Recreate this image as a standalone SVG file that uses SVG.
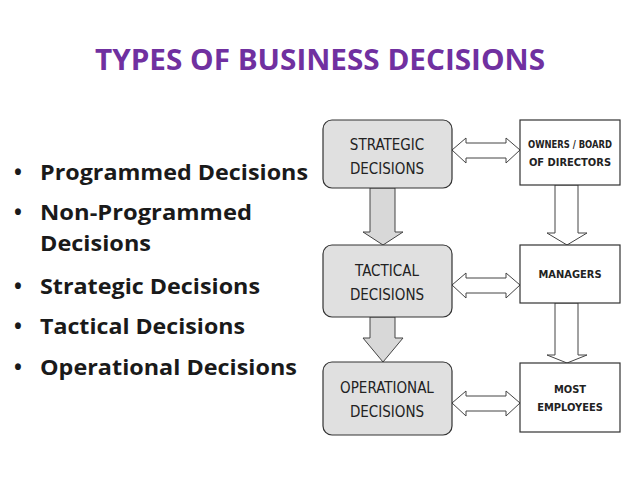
<svg xmlns="http://www.w3.org/2000/svg" width="638" height="479" viewBox="0 0 638 479">
<style>
.t{font-family:"Open Sans","Liberation Sans",sans-serif;font-weight:bold}
.b{font-family:"Open Sans","Liberation Sans",sans-serif;font-weight:bold;font-size:21px;fill:#1a1a1a}
.lb{fill:#e0e0e0;stroke:#333;stroke-width:1.2}
.rb{fill:#fff;stroke:#333;stroke-width:1.2}
.lt{font-family:"DejaVu Sans Condensed","Liberation Sans Narrow",sans-serif;font-size:15px;fill:#222;text-anchor:middle}
.rt{font-family:"DejaVu Sans Condensed","Liberation Sans Narrow",sans-serif;font-weight:bold;font-size:11px;fill:#222;text-anchor:middle}
.ga{fill:#d8d8d8;stroke:#444;stroke-width:1}
.wa{fill:#fff;stroke:#444;stroke-width:1}
</style>
<rect width="638" height="479" fill="#fff"/>
<text class="t" x="95" y="70" font-size="28" fill="#7030a0" textLength="450" lengthAdjust="spacingAndGlyphs">TYPES OF BUSINESS DECISIONS</text>
<g id="bullets">
<text class="b" x="14" y="180">•</text><text class="b" x="40" y="180" textLength="268" lengthAdjust="spacingAndGlyphs">Programmed Decisions</text>
<text class="b" x="14" y="220">•</text><text class="b" x="40" y="220" textLength="212" lengthAdjust="spacingAndGlyphs">Non-Programmed</text>
<text class="b" x="40" y="251" textLength="111" lengthAdjust="spacingAndGlyphs">Decisions</text>
<text class="b" x="14" y="294">•</text><text class="b" x="40" y="294" textLength="220" lengthAdjust="spacingAndGlyphs">Strategic Decisions</text>
<text class="b" x="14" y="334">•</text><text class="b" x="40" y="334" textLength="205" lengthAdjust="spacingAndGlyphs">Tactical Decisions</text>
<text class="b" x="14" y="375">•</text><text class="b" x="40" y="375" textLength="257" lengthAdjust="spacingAndGlyphs">Operational Decisions</text>
</g>
<g id="connectors">
<path class="ga" d="M370,188 H395 V232 H403 L383,245 L363,232 H370 Z"/>
<path class="ga" d="M370,317 H395 V338 H403 L383,362 L363,338 H370 Z"/>
<path class="wa" d="M555,185 H578 V233 H587 L567,245 L547,233 H555 Z"/>
<path class="wa" d="M555,303 H578 V355 H587 L567,363 L547,355 H555 Z"/>
<path class="wa" d="M452,150 L466,138 V143 H506 V138 L520,150 L506,163 V158 H466 V163 Z"/>
<path class="wa" d="M452,285 L466,273 V278 H506 V273 L520,285 L506,298 V293 H466 V298 Z"/>
<path class="wa" d="M452,403 L466,391 V396 H506 V391 L520,403 L506,416 V411 H466 V416 Z"/>
</g>
<g id="strategic"><rect class="lb" x="323" y="120" width="129" height="68" rx="9"/><text class="lt" x="387" y="150">STRATEGIC</text><text class="lt" x="387" y="174">DECISIONS</text></g>
<g id="tactical"><rect class="lb" x="323" y="245" width="129" height="72" rx="9"/><text class="lt" x="387" y="276">TACTICAL</text><text class="lt" x="387" y="300">DECISIONS</text></g>
<g id="operational"><rect class="lb" x="323" y="362" width="129" height="73" rx="9"/><text class="lt" x="387" y="393">OPERATIONAL</text><text class="lt" x="387" y="417">DECISIONS</text></g>
<g id="owners"><rect class="rb" x="520" y="120" width="100" height="65"/><text class="rt" x="570" y="148" textLength="84" lengthAdjust="spacingAndGlyphs">OWNERS / BOARD</text><text class="rt" x="570" y="166">OF DIRECTORS</text></g>
<g id="managers"><rect class="rb" x="520" y="245" width="100" height="58"/><text class="rt" x="570" y="278">MANAGERS</text></g>
<g id="employees"><rect class="rb" x="520" y="363" width="100" height="69"/><text class="rt" x="570" y="393">MOST</text><text class="rt" x="570" y="411">EMPLOYEES</text></g>
</svg>
